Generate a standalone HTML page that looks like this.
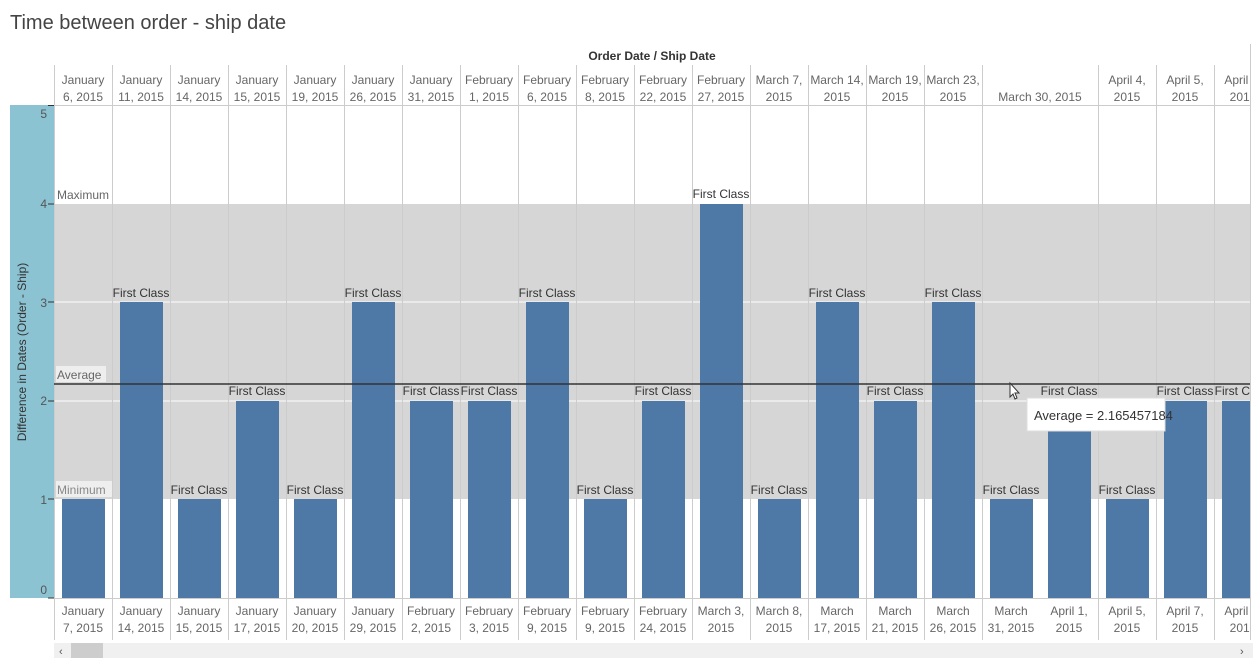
<!DOCTYPE html>
<html><head><meta charset="utf-8"><style>
html,body{margin:0;padding:0;background:#fff;width:1260px;height:660px;overflow:hidden}
svg{display:block;font-family:"Liberation Sans",sans-serif}
.h{font-size:12px;fill:#666;text-anchor:middle}
.l{font-size:12px;fill:#333;text-anchor:middle}
.t{font-size:12px;fill:#555;text-anchor:end}
</style></head><body>
<svg width="1260" height="660" viewBox="0 0 1260 660">
<defs><clipPath id="c"><rect x="0" y="0" width="1250" height="660"/></clipPath></defs>
<text x="10" y="29" font-size="20" fill="#444">Time between order - ship date</text>
<text x="652" y="60" font-size="12" fill="#333" text-anchor="middle" font-weight="bold">Order Date / Ship Date</text>
<line x1="1250.5" y1="44" x2="1250.5" y2="640" stroke="#ccc"/>
<rect x="10" y="105" width="44" height="493" fill="#8cc3d2"/>
<text x="22" y="352" font-size="12" fill="#333" text-anchor="middle" transform="rotate(-90 22 352)" dy="4">Difference in Dates (Order - Ship)</text>
<g class="t"><text x="47" y="118">5</text><text x="47" y="208">4</text><text x="47" y="307">3</text><text x="47" y="405">2</text><text x="47" y="504">1</text><text x="47" y="594">0</text></g>
<g stroke="#333"><line x1="48" y1="105.5" x2="54" y2="105.5"/><line x1="48" y1="204" x2="54" y2="204"/><line x1="48" y1="302" x2="54" y2="302"/><line x1="48" y1="401" x2="54" y2="401"/><line x1="48" y1="499" x2="54" y2="499"/><line x1="48" y1="598" x2="54" y2="598"/></g>
<g clip-path="url(#c)">
<rect x="54" y="204" width="1196" height="295" fill="#d6d6d6"/>
<line x1="54" y1="302" x2="1250" y2="302" stroke="#fff"/>
<line x1="54" y1="401" x2="1250" y2="401" stroke="#fff"/>
<line x1="54" y1="105.5" x2="1250" y2="105.5" stroke="#ccc"/>
<line x1="54" y1="598.5" x2="1250" y2="598.5" stroke="#ccc"/>
<g stroke="#ccc">
<line x1="54.5" y1="65" x2="54.5" y2="640"/><line x1="112.5" y1="65" x2="112.5" y2="640"/><line x1="170.5" y1="65" x2="170.5" y2="640"/><line x1="228.5" y1="65" x2="228.5" y2="640"/><line x1="286.5" y1="65" x2="286.5" y2="640"/><line x1="344.5" y1="65" x2="344.5" y2="640"/><line x1="402.5" y1="65" x2="402.5" y2="640"/><line x1="460.5" y1="65" x2="460.5" y2="640"/><line x1="518.5" y1="65" x2="518.5" y2="640"/><line x1="576.5" y1="65" x2="576.5" y2="640"/><line x1="634.5" y1="65" x2="634.5" y2="640"/><line x1="692.5" y1="65" x2="692.5" y2="640"/><line x1="750.5" y1="65" x2="750.5" y2="640"/><line x1="808.5" y1="65" x2="808.5" y2="640"/><line x1="866.5" y1="65" x2="866.5" y2="640"/><line x1="924.5" y1="65" x2="924.5" y2="640"/><line x1="982.5" y1="65" x2="982.5" y2="640"/><line x1="1098.5" y1="65" x2="1098.5" y2="640"/><line x1="1156.5" y1="65" x2="1156.5" y2="640"/><line x1="1214.5" y1="65" x2="1214.5" y2="640"/>
</g>
<g fill="#fff">
<rect x="55" y="499" width="57" height="99"/><rect x="113" y="499" width="57" height="99"/><rect x="171" y="499" width="57" height="99"/><rect x="229" y="499" width="57" height="99"/><rect x="287" y="499" width="57" height="99"/><rect x="345" y="499" width="57" height="99"/><rect x="403" y="499" width="57" height="99"/><rect x="461" y="499" width="57" height="99"/><rect x="519" y="499" width="57" height="99"/><rect x="577" y="499" width="57" height="99"/><rect x="635" y="499" width="57" height="99"/><rect x="693" y="499" width="57" height="99"/><rect x="751" y="499" width="57" height="99"/><rect x="809" y="499" width="57" height="99"/><rect x="867" y="499" width="57" height="99"/><rect x="925" y="499" width="57" height="99"/><rect x="983" y="499" width="115" height="99"/><rect x="1099" y="499" width="57" height="99"/><rect x="1157" y="499" width="57" height="99"/><rect x="1215" y="499" width="57" height="99"/>
</g>
<g fill="#4e79a7">
<rect x="62" y="499" width="43" height="99"/><rect x="120" y="302" width="43" height="296"/><rect x="178" y="499" width="43" height="99"/><rect x="236" y="401" width="43" height="197"/><rect x="294" y="499" width="43" height="99"/><rect x="352" y="302" width="43" height="296"/><rect x="410" y="401" width="43" height="197"/><rect x="468" y="401" width="43" height="197"/><rect x="526" y="302" width="43" height="296"/><rect x="584" y="499" width="43" height="99"/><rect x="642" y="401" width="43" height="197"/><rect x="700" y="204" width="43" height="394"/><rect x="758" y="499" width="43" height="99"/><rect x="816" y="302" width="43" height="296"/><rect x="874" y="401" width="43" height="197"/><rect x="932" y="302" width="43" height="296"/><rect x="990" y="499" width="43" height="99"/><rect x="1048" y="401" width="43" height="197"/><rect x="1106" y="499" width="43" height="99"/><rect x="1164" y="401" width="43" height="197"/><rect x="1222" y="401" width="43" height="197"/>
</g>
<rect x="56" y="184" width="56" height="18" fill="#fff"/>
<text x="57" y="199" font-size="12" fill="#666">Maximum</text>
<rect x="56" y="366" width="50" height="16" fill="#eee"/>
<text x="57" y="379" font-size="12" fill="#666">Average</text>
<rect x="56" y="481" width="56" height="16" fill="#eee"/>
<text x="57" y="494" font-size="12" fill="#888">Minimum</text>
<line x1="54" y1="384" x2="1250" y2="384" stroke="#333" stroke-width="1.5"/>
<g class="l">
<text x="141" y="297">First Class</text><text x="199" y="494">First Class</text><text x="257" y="395">First Class</text><text x="315" y="494">First Class</text><text x="373" y="297">First Class</text><text x="431" y="395">First Class</text><text x="489" y="395">First Class</text><text x="547" y="297">First Class</text><text x="605" y="494">First Class</text><text x="663" y="395">First Class</text><text x="721" y="198">First Class</text><text x="779" y="494">First Class</text><text x="837" y="297">First Class</text><text x="895" y="395">First Class</text><text x="953" y="297">First Class</text><text x="1011" y="494">First Class</text><text x="1069" y="395">First Class</text><text x="1127" y="494">First Class</text><text x="1185" y="395">First Class</text><text x="1243" y="395">First Class</text>
</g>
<g class="h">
<text x="83" y="84">January</text><text x="83" y="101">6, 2015</text>
<text x="141" y="84">January</text><text x="141" y="101">11, 2015</text>
<text x="199" y="84">January</text><text x="199" y="101">14, 2015</text>
<text x="257" y="84">January</text><text x="257" y="101">15, 2015</text>
<text x="315" y="84">January</text><text x="315" y="101">19, 2015</text>
<text x="373" y="84">January</text><text x="373" y="101">26, 2015</text>
<text x="431" y="84">January</text><text x="431" y="101">31, 2015</text>
<text x="489" y="84">February</text><text x="489" y="101">1, 2015</text>
<text x="547" y="84">February</text><text x="547" y="101">6, 2015</text>
<text x="605" y="84">February</text><text x="605" y="101">8, 2015</text>
<text x="663" y="84">February</text><text x="663" y="101">22, 2015</text>
<text x="721" y="84">February</text><text x="721" y="101">27, 2015</text>
<text x="779" y="84">March 7,</text><text x="779" y="101">2015</text>
<text x="837" y="84">March 14,</text><text x="837" y="101">2015</text>
<text x="895" y="84">March 19,</text><text x="895" y="101">2015</text>
<text x="953" y="84">March 23,</text><text x="953" y="101">2015</text>
<text x="1040" y="101">March 30, 2015</text>
<text x="1127" y="84">April 4,</text><text x="1127" y="101">2015</text>
<text x="1185" y="84">April 5,</text><text x="1185" y="101">2015</text>
<text x="1243" y="84">April 6,</text><text x="1243" y="101">2015</text>
<text x="83" y="615">January</text><text x="83" y="632">7, 2015</text>
<text x="141" y="615">January</text><text x="141" y="632">14, 2015</text>
<text x="199" y="615">January</text><text x="199" y="632">15, 2015</text>
<text x="257" y="615">January</text><text x="257" y="632">17, 2015</text>
<text x="315" y="615">January</text><text x="315" y="632">20, 2015</text>
<text x="373" y="615">January</text><text x="373" y="632">29, 2015</text>
<text x="431" y="615">February</text><text x="431" y="632">2, 2015</text>
<text x="489" y="615">February</text><text x="489" y="632">3, 2015</text>
<text x="547" y="615">February</text><text x="547" y="632">9, 2015</text>
<text x="605" y="615">February</text><text x="605" y="632">9, 2015</text>
<text x="663" y="615">February</text><text x="663" y="632">24, 2015</text>
<text x="721" y="615">March 3,</text><text x="721" y="632">2015</text>
<text x="779" y="615">March 8,</text><text x="779" y="632">2015</text>
<text x="837" y="615">March</text><text x="837" y="632">17, 2015</text>
<text x="895" y="615">March</text><text x="895" y="632">21, 2015</text>
<text x="953" y="615">March</text><text x="953" y="632">26, 2015</text>
<text x="1011" y="615">March</text><text x="1011" y="632">31, 2015</text>
<text x="1069" y="615">April 1,</text><text x="1069" y="632">2015</text>
<text x="1127" y="615">April 5,</text><text x="1127" y="632">2015</text>
<text x="1185" y="615">April 7,</text><text x="1185" y="632">2015</text>
<text x="1243" y="615">April 9,</text><text x="1243" y="632">2015</text>
</g>
</g>
<rect x="1027" y="398" width="138" height="33" fill="#fff" stroke="#ddd"/>
<text x="1034" y="420" font-size="13" fill="#333">Average = 2.165457184</text>
<path d="M1010 383 v14 l3 -3 l2 5 l2 -1 l-2 -5 h4 z" fill="#fff" stroke="#333" stroke-width="1"/>
<rect x="54" y="643" width="1199" height="15" fill="#f0f0f0"/>
<rect x="71" y="643" width="32" height="15" fill="#cdcdcd"/>
<text x="59" y="655" font-size="11" fill="#555">‹</text>
<text x="1240" y="655" font-size="11" fill="#555">›</text>
</svg>
</body></html>
